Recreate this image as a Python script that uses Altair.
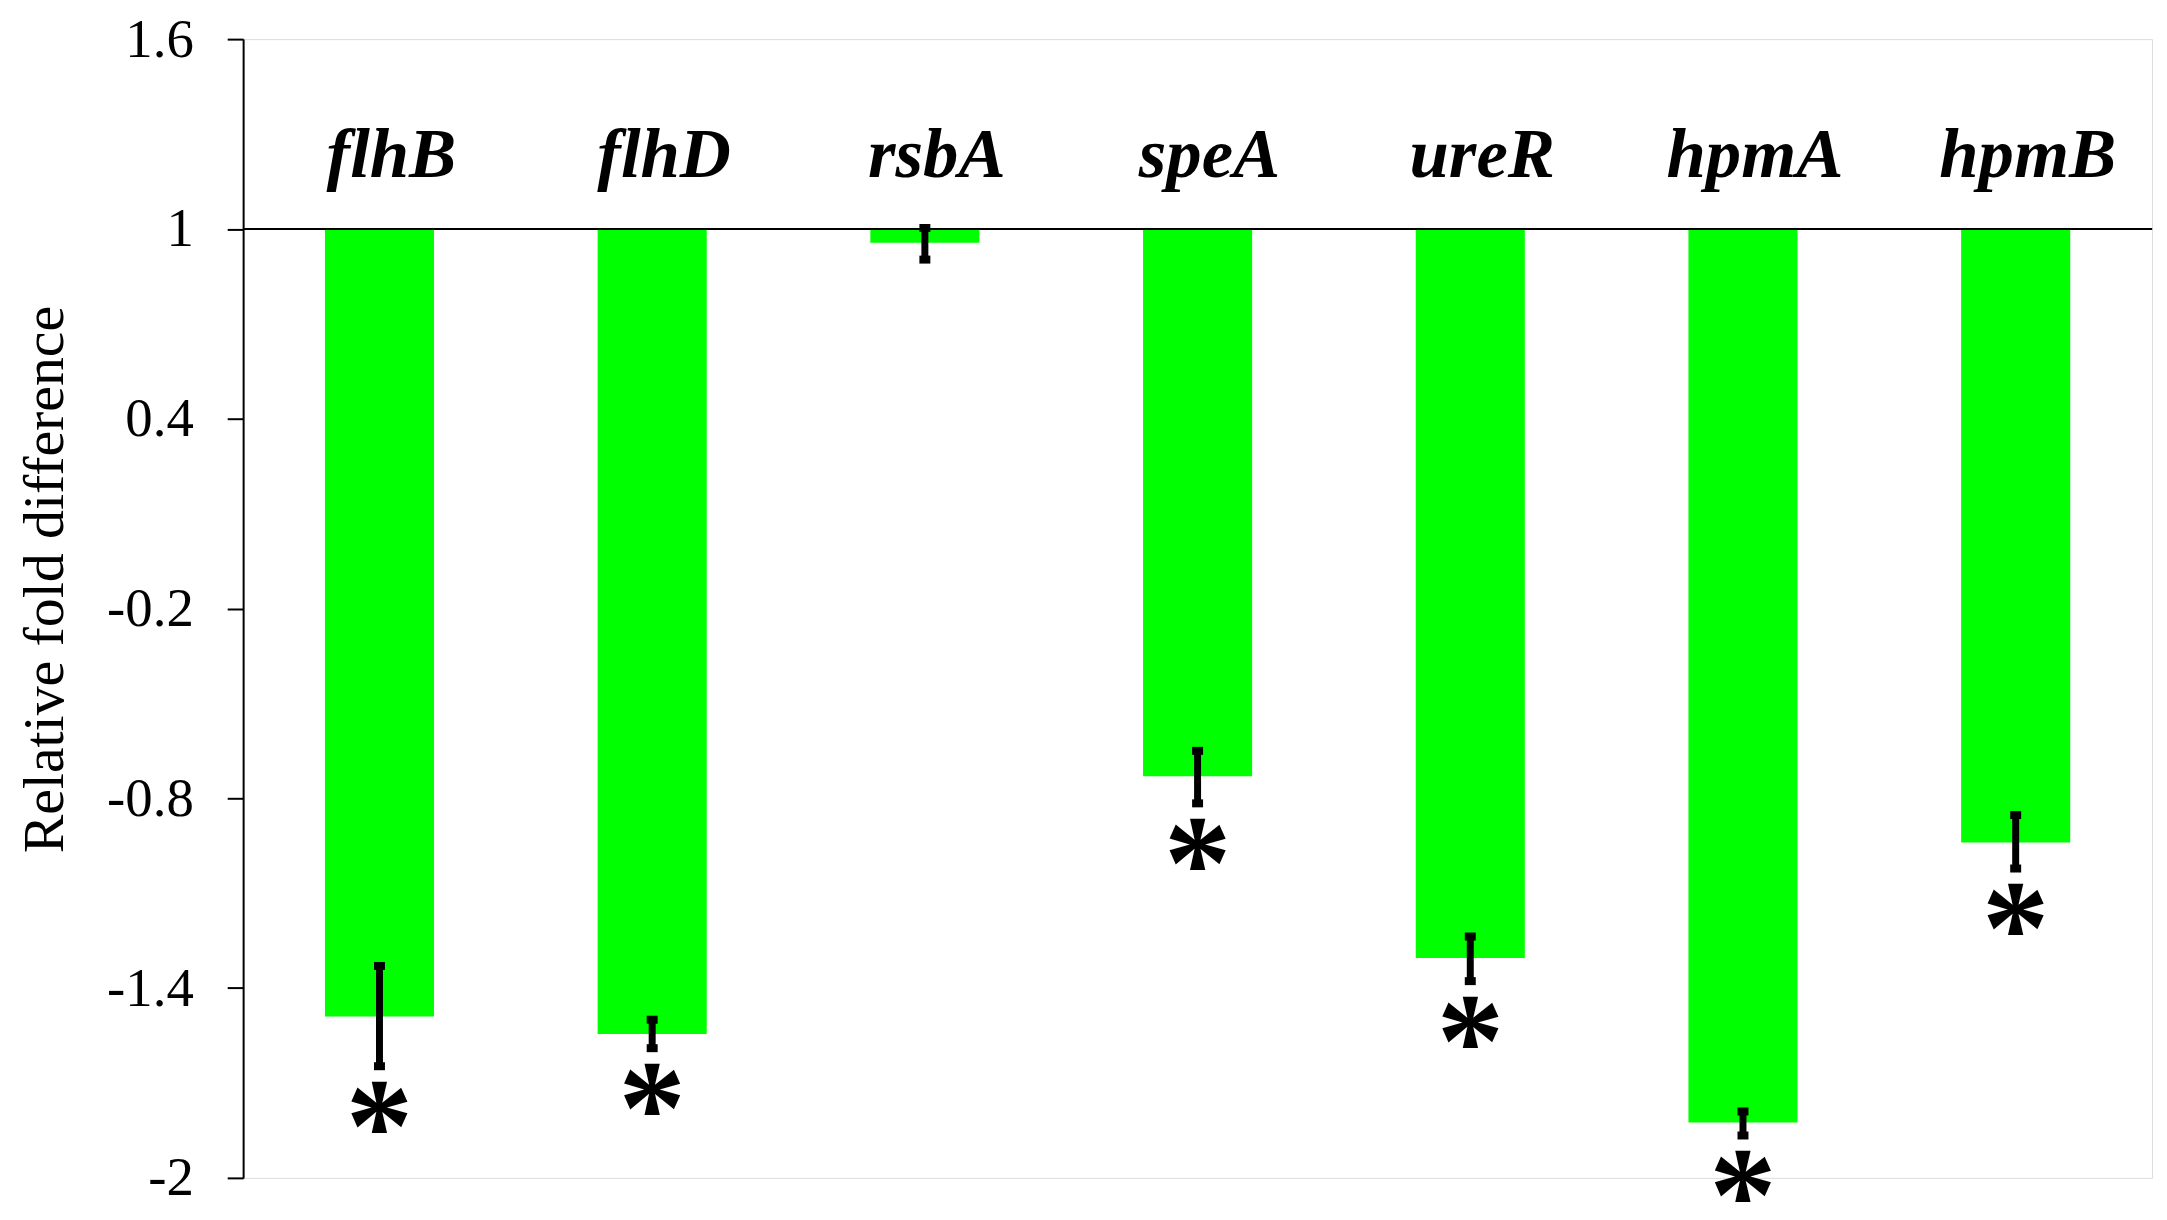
import altair as alt
import pandas as pd

genes = ["flhB", "flhD", "rsbA", "speA", "ureR", "hpmA", "hpmB"]
values = [-1.49, -1.545, 0.956, -0.73, -1.305, -1.825, -0.94]
err_hi = [-1.33, -1.50, 1.003, -0.65, -1.237, -1.79, -0.853]
err_lo = [-1.647, -1.59, 0.903, -0.816, -1.378, -1.866, -1.022]
signif = ["*", "*", "", "*", "*", "*", "*"]
y_ticks = [1.6, 1, 0.4, -0.2, -0.8, -1.4, -2]
baseline_value = 1

df = pd.DataFrame({
    "gene": genes,
    "value": values,
    "hi": err_hi,
    "lo": err_lo,
    "sig": signif,
    "base": [baseline_value] * len(genes),
})

FONT = "Liberation Serif"
W, H = 1916, 1143

x_enc = alt.X("gene:N", sort=genes,
              scale=alt.Scale(paddingInner=0.6, paddingOuter=0.3),
              axis=None)
y_scale = alt.Scale(domain=[-2, 1.6], nice=False, zero=False)

base = alt.Chart(df)

bars = base.mark_bar(color="#00FF00").encode(
    x=x_enc,
    y=alt.Y("value:Q", scale=y_scale,
            axis=alt.Axis(values=y_ticks, title="Relative fold difference",
                          labelExpr="'' + datum.value",
                          labelFont=FONT, labelFontSize=55, labelColor="black",
                          labelPadding=34, tickSize=16, tickWidth=2,
                          tickColor="black", domainColor="black", domainWidth=2,
                          grid=False, titleFont=FONT, titleFontSize=58,
                          titleFontWeight="normal", titleColor="black",
                          titleX=-181, titleY=542, titleBaseline="alphabetic")),
    y2="base:Q",
)

hline = base.mark_rule(color="black", strokeWidth=2).encode(
    y=alt.Y("base:Q", scale=y_scale),
    x=alt.value(0),
    x2=alt.value(W),
)

err = base.mark_rule(color="black", strokeWidth=7, opacity=1).encode(
    x=x_enc,
    y=alt.Y("hi:Q", scale=y_scale),
    y2="lo:Q",
)

cap_hi = base.mark_tick(color="black", size=11, thickness=8, orient="horizontal",
                        opacity=1).encode(
    x=x_enc, y=alt.Y("hi:Q", scale=y_scale))
cap_lo = base.mark_tick(color="black", size=11, thickness=8, orient="horizontal",
                        opacity=1).encode(
    x=x_enc, y=alt.Y("lo:Q", scale=y_scale))

stars = base.mark_text(font=FONT, fontSize=135, fontWeight="bold", baseline="top",
                       dy=-2, color="black").encode(
    x=x_enc, y=alt.Y("lo:Q", scale=y_scale), text="sig:N")

labels = base.mark_text(font=FONT, fontSize=71, fontStyle="italic",
                        fontWeight="bold", baseline="alphabetic", dy=-52, dx=12,
                        color="black").encode(
    x=x_enc, y=alt.Y("base:Q", scale=y_scale), text="gene:N")

chart = alt.layer(bars, hline, err, cap_hi, cap_lo, stars, labels).properties(
    width=W, height=H,
    autosize=alt.AutoSizeParams(type="none"),
    padding={"left": 236, "top": 29, "right": 7, "bottom": 30},
).configure_view(stroke=None).configure(background="white")

chart.save("out.html", embed_options={"renderer": "svg", "actions": False})
